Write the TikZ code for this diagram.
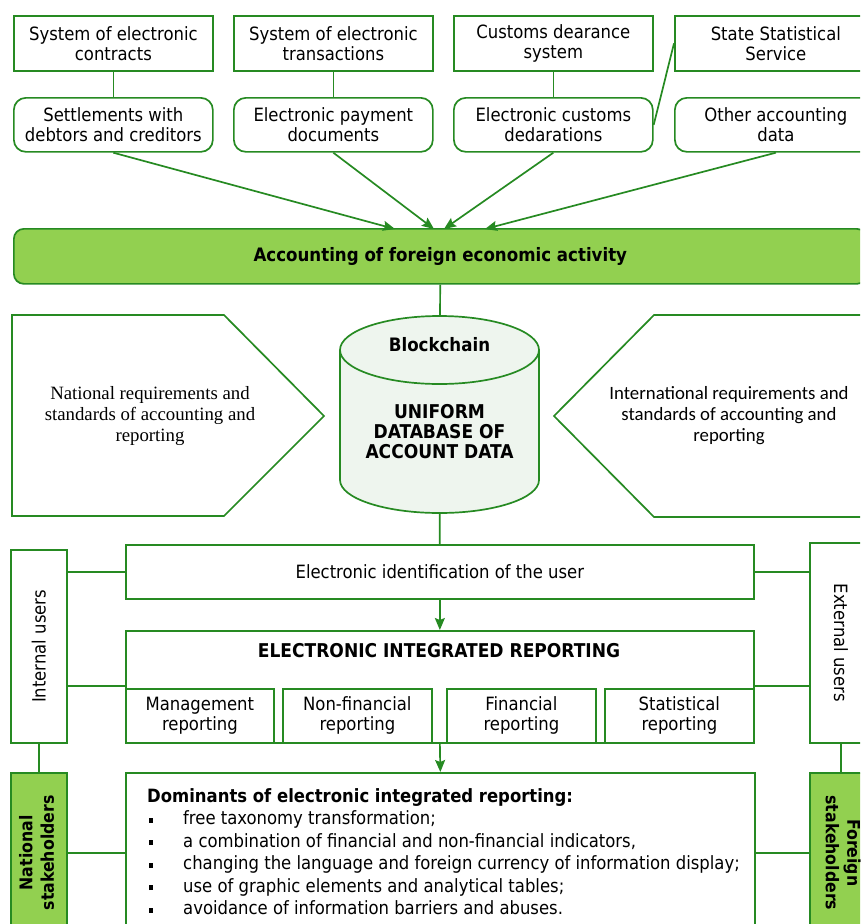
\documentclass[tikz,border=0pt]{standalone}
\usepackage{fontspec}
\setmainfont{DejaVu Sans Condensed}
\newfontfamily\serf{Liberation Serif}
\newfontfamily\carl{Carlito}
\usetikzlibrary{arrows.meta,calc}
\definecolor{gc}{HTML}{268A22}
\definecolor{gf}{HTML}{92D050}
\definecolor{cf}{HTML}{EEF5EE}
\begin{document}
\begin{tikzpicture}[x=1pt,y=-1pt,
  ln/.style={draw=gc, line width=1.7pt},
  box/.style={ln, fill=white, align=center, inner sep=0pt, anchor=north west, font=\fontsize{18.3}{20}\selectfont},
  rbox/.style={box, rounded corners=12pt},
  arr/.style={ln, -{Stealth[length=12pt,width=10pt,inset=2pt]}},
  bold/.style={font=\bfseries\fontsize{19}{20}\selectfont, align=center}]
\useasboundingbox (0,0) rectangle (860,924);
\clip (0,0) rectangle (860,924);
% top row
\node[box, minimum width=199pt, minimum height=55pt] (t1) at (13,15) {System of electronic\\contracts};
\node[box, minimum width=199pt, minimum height=55pt] (t2) at (233,15) {System of electronic\\transactions};
\node[box, minimum width=199pt, minimum height=55pt] (t3) at (453,15) {Customs dearance\\system};
\node[box, minimum width=202pt, minimum height=55pt] (t4) at (674,15) {State Statistical\\Service};
\node[rbox, minimum width=199pt, minimum height=54pt] (s1) at (13,97) {Settlements with\\debtors and creditors};
\node[rbox, minimum width=199pt, minimum height=54pt] (s2) at (233,97) {Electronic payment\\documents};
\node[rbox, minimum width=199pt, minimum height=54pt] (s3) at (453,97) {Electronic customs\\dedarations};
\node[rbox, minimum width=202pt, minimum height=54pt] (s4) at (674,97) {Other accounting\\data};
\draw[ln] (t1) -- (s1);
\draw[ln] (t2) -- (s2);
\draw[ln] (t3) -- (s3);
\draw[ln] (t4.west) -- (s3.east);
% bar
\node[box, fill=gf, rounded corners=10pt, minimum width=853pt, minimum height=55pt, font=\bfseries\fontsize{18.5}{20}\selectfont] (bar) at (13,228) {Accounting of foreign economic activity};
\coordinate (a1) at (395,229);
\coordinate (a2) at (434,229);
\coordinate (a3) at (444,229);
\coordinate (a4) at (485,229);
\draw[arr] (s1.south) -- (a1);
\draw[arr] (s2.south) -- (a2);
\draw[arr] (s3.south) -- (a3);
\draw[arr] (s4.south) -- (a4);
% pentagons
\draw[ln] (12,315) -- (224,315) -- (324,416) -- (224,516) -- (12,516) -- cycle;
\node[font=\serf\fontsize{18.8}{21}\selectfont, align=center] (nat) at (150,416) {National requirements and\\standards of accounting and\\reporting};
\draw[ln] (880,315) -- (654,315) -- (554,416) -- (654,517) -- (880,517);
\node[font=\carl\fontsize{18.8}{21}\selectfont, align=center] (int) at (729,416) {International requirements and\\standards of accounting and\\reporting};
% cylinder
\node[minimum width=199pt, minimum height=197pt, inner sep=0pt, anchor=north] (db) at (439.5,316) {};
\filldraw[ln, fill=cf] (340,350) -- (340,480) arc[start angle=180,end angle=360,x radius=99.5pt,y radius=33pt] -- (539,350) arc[start angle=0,end angle=180,x radius=99.5pt,y radius=34pt] -- cycle;
\draw[ln] (340,350) arc[start angle=180,end angle=360,x radius=99.5pt,y radius=34pt];
\node[bold, font=\bfseries\fontsize{18.5}{20}\selectfont] (bc) at (439.5,345) {Blockchain};
\node[bold] (ud) at (439.5,432) {UNIFORM\\DATABASE OF\\ACCOUNT DATA};
\draw[ln] (bar) -- (db);
% identification
\node[box, minimum width=628pt, minimum height=54pt] (eid) at (125,544) {Electronic identification of the user};
\draw[ln] (db) -- (eid);
\node[box, minimum width=628pt, minimum height=112pt] (ier) at (125,630) {};
\node[bold] (iert) at (439,651) {ELECTRONIC INTEGRATED REPORTING};
\draw[arr] (eid) -- (ier);
\node[box, minimum width=148pt, minimum height=54pt] (mr) at (125,688) {Management\\reporting};
\node[box, minimum width=149pt, minimum height=54pt] (nf) at (282,688) {Non-financial\\reporting};
\node[box, minimum width=149pt, minimum height=54pt] (fr) at (446,688) {Financial\\reporting};
\node[box, minimum width=149pt, minimum height=54pt] (sr) at (604,688) {Statistical\\reporting};
% users
\node[box, minimum width=56pt, minimum height=193pt] (iu) at (10,549) {\rotatebox{90}{Internal users}};
\node[box, minimum width=62pt, minimum height=200pt] (eu) at (809,542) {\rotatebox{-90}{External users}};
\coordinate (c1) at (125,686);
\coordinate (c2) at (753,686);
\draw[ln] (iu.east |- eid.west) -- (eid.west);
\draw[ln] (eid.east) -- (eu.west |- eid.east);
\draw[ln] (iu.east |- c1) -- (c1);
\draw[ln] (c2) -- (eu.west |- c2);
% dominants
\node[box, minimum width=629pt, minimum height=160pt] (dom) at (125,772) {};
\draw[arr] (ier.south) -- (dom.north);
\node[box, fill=gf, minimum width=56pt, minimum height=160pt, font=\bfseries\fontsize{17.5}{21.5}\selectfont] (ns) at (10,772) {\rotatebox{90}{\begin{tabular}{@{}c@{}}National\\stakeholders\end{tabular}}};
\node[box, fill=gf, minimum width=62pt, minimum height=160pt, font=\bfseries\fontsize{17.5}{21.5}\selectfont] (fs) at (809,772) {\rotatebox{-90}{\begin{tabular}{@{}c@{}}Foreign\\stakeholders\end{tabular}}};
\draw[ln] (iu) -- (ns);
\draw[ln] (eu) -- (fs);
\draw[ln] (ns) -- (dom);
\draw[ln] (dom) -- (fs);
\newcommand\bul{\makebox[36pt][l]{\hspace{2pt}\rule[2pt]{3.5pt}{5pt}}}
\node[anchor=north west, inner sep=0pt, align=left, font=\fontsize{18.3}{22.5}\selectfont] (domt) at (147,788) {%
\textbf{Dominants of electronic integrated reporting:}\\
\bul free taxonomy transformation;\\
\bul a combination of financial and non-financial indicators,\\
\bul changing the language and foreign currency of information display;\\
\bul use of graphic elements and analytical tables;\\
\bul avoidance of information barriers and abuses.};
\end{tikzpicture}
\end{document}
